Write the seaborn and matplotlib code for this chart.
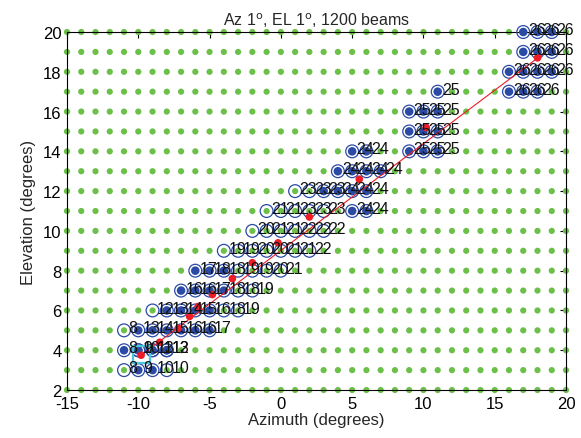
import numpy as np
import pandas as pd
import matplotlib
matplotlib.use("Agg")
import matplotlib.pyplot as plt
import seaborn as sns

# Full beam lattice (1 degree spacing in azimuth and elevation)
grid_az = np.arange(-15, 21)
grid_el = np.arange(2, 21)

# Beams visited along the track: azimuth, elevation, dwell step, filled marker
beam_az = [-11, -10, -9, -8,
           -11, -10, -10, -9, -9, -8, -8,
           -11, -10, -9, -8, -7, -6, -5,
           -9, -8, -7, -6, -5, -4, -3,
           -7, -6, -5, -4, -3, -2,
           -6, -5, -4, -3, -2, -1, 0,
           -4, -3, -2, -1, 0, 1, 2,
           -2, -1, 0, 1, 2, 3,
           -1, 0, 1, 2, 3, 5, 6,
           1, 2, 3, 4, 5, 6,
           4, 5, 6, 7,
           5, 6, 9, 10, 11,
           9, 10, 11,
           9, 10, 11,
           11, 16, 17, 18,
           16, 17, 18, 19,
           17, 18, 19,
           17, 18, 19]
beam_el = [3, 3, 3, 3,
           4, 4, 4, 4, 4, 4, 4,
           5, 5, 5, 5, 5, 5, 5,
           6, 6, 6, 6, 6, 6, 6,
           7, 7, 7, 7, 7, 7,
           8, 8, 8, 8, 8, 8, 8,
           9, 9, 9, 9, 9, 9, 9,
           10, 10, 10, 10, 10, 10,
           11, 11, 11, 11, 11, 11, 11,
           12, 12, 12, 12, 12, 12,
           13, 13, 13, 13,
           14, 14, 14, 14, 14,
           15, 15, 15,
           16, 16, 16,
           17, 17, 17, 17,
           18, 18, 18, 18,
           19, 19, 19,
           20, 20, 20]
beam_step = [8, 9, 10, 10,
             8, 9, 10, 11, 13, 12, 13,
             8, 13, 14, 15, 16, 16, 17,
             12, 13, 14, 15, 16, 18, 19,
             16, 16, 17, 18, 18, 19,
             17, 18, 18, 19, 19, 20, 21,
             19, 19, 20, 20, 21, 21, 22,
             20, 21, 21, 22, 22, 22,
             21, 21, 23, 23, 23, 24, 24,
             23, 23, 23, 24, 24, 24,
             24, 24, 24, 24,
             24, 24, 25, 25, 25,
             25, 25, 25,
             25, 25, 25,
             25, 26, 26, 26,
             26, 26, 26, 26,
             26, 26, 26,
             26, 26, 26]
beam_filled = [0, 1, 1, 0,
               1, 1, 1, 1, 1, 1, 1,
               0, 1, 1, 1, 1, 1, 1,
               0, 1, 1, 1, 1, 0, 0,
               1, 1, 1, 1, 0, 0,
               1, 1, 1, 0, 0, 0, 0,
               0, 0, 0, 0, 0, 0, 0,
               0, 0, 0, 0, 0, 0,
               0, 0, 0, 0, 0, 1, 1,
               0, 0, 1, 1, 1, 1,
               1, 1, 1, 1,
               1, 1, 1, 1, 1,
               1, 1, 1,
               1, 1, 1,
               1, 1, 1, 1,
               1, 1, 1, 1,
               1, 1, 1,
               1, 1, 1]

# Target track and its sampled positions
track_az = [-9.8, -8.5, -7.2, -6.4, -5.8, -4.8, -3.4, -2.0, -0.2, 2.0, 5.5, 10.2, 18.0]
track_el = [3.75, 4.4, 5.1, 5.7, 6.2, 6.8, 7.6, 8.4, 9.4, 10.7, 12.6, 15.2, 18.7]
line_az = [-9.8, 18.4]
line_el = [3.75, 18.9]
start_az = [-9.8]
start_el = [3.8]

GREEN = "#6cc04a"
BLUE = "#2a4aa6"
RED = "#ee1c24"

sns.set_theme(style="white")
plt.rcParams["font.family"] = ["Liberation Sans", "DejaVu Sans"]
plt.rcParams["axes.unicode_minus"] = False

fig = plt.figure(figsize=(5.81, 4.39), dpi=100)
ax = fig.add_axes([0.1153, 0.1093, 0.8589, 0.8155])

gx, gy = np.meshgrid(grid_az, grid_el)
grid_df = pd.DataFrame({"az": gx.ravel(), "el": gy.ravel()})
beams = pd.DataFrame({"az": beam_az, "el": beam_el, "step": beam_step,
                      "filled": beam_filled})
track = pd.DataFrame({"az": track_az, "el": track_el})
line = pd.DataFrame({"az": line_az, "el": line_el})

sns.scatterplot(data=grid_df, x="az", y="el", s=20, color=GREEN,
                edgecolor="none", ax=ax, zorder=2, clip_on=False)
sns.scatterplot(data=beams, x="az", y="el", s=85, facecolor="none",
                edgecolor=BLUE, linewidth=0.9, ax=ax, zorder=3, clip_on=False)
sns.scatterplot(data=beams[beams["filled"] == 1], x="az", y="el", s=38,
                color=BLUE, edgecolor="none", ax=ax, zorder=4, clip_on=False)
sns.lineplot(data=line, x="az", y="el", sort=False, color=RED, lw=0.8,
             ax=ax, zorder=5)
sns.scatterplot(data=track, x="az", y="el", s=30, color=RED,
                edgecolor="none", ax=ax, zorder=6)
ax.scatter(start_az, start_el, s=150, marker="s", facecolor="none",
           edgecolor="#4cc8dc", linewidth=1.6, zorder=7)

for a, e, k in zip(beam_az, beam_el, beam_step):
    ax.text(a + 0.32, e + 0.12, str(k), fontsize=11.5, color="#111111",
            ha="left", va="center", zorder=8, clip_on=False)

ax.set_xlim(-15, 20)
ax.set_ylim(2, 20)
ax.set_xticks(np.arange(-15, 21, 5))
ax.set_yticks(np.arange(2, 21, 2))
ax.tick_params(direction="in", length=4, width=0.8, top=True, right=True,
               labelsize=12, colors="black", pad=4)
for sp in ax.spines.values():
    sp.set_color("black")
    sp.set_linewidth(0.8)
ax.set_xlabel("Azimuth (degrees)", fontsize=12, labelpad=1)
ax.set_ylabel("Elevation (degrees)", fontsize=12, labelpad=5)
ax.set_title("Az 1$^{\\mathrm{o}}$, EL 1$^{\\mathrm{o}}$, 1200 beams",
             fontsize=11.5, pad=5)

fig.savefig("out.png", dpi=100, facecolor="white")
